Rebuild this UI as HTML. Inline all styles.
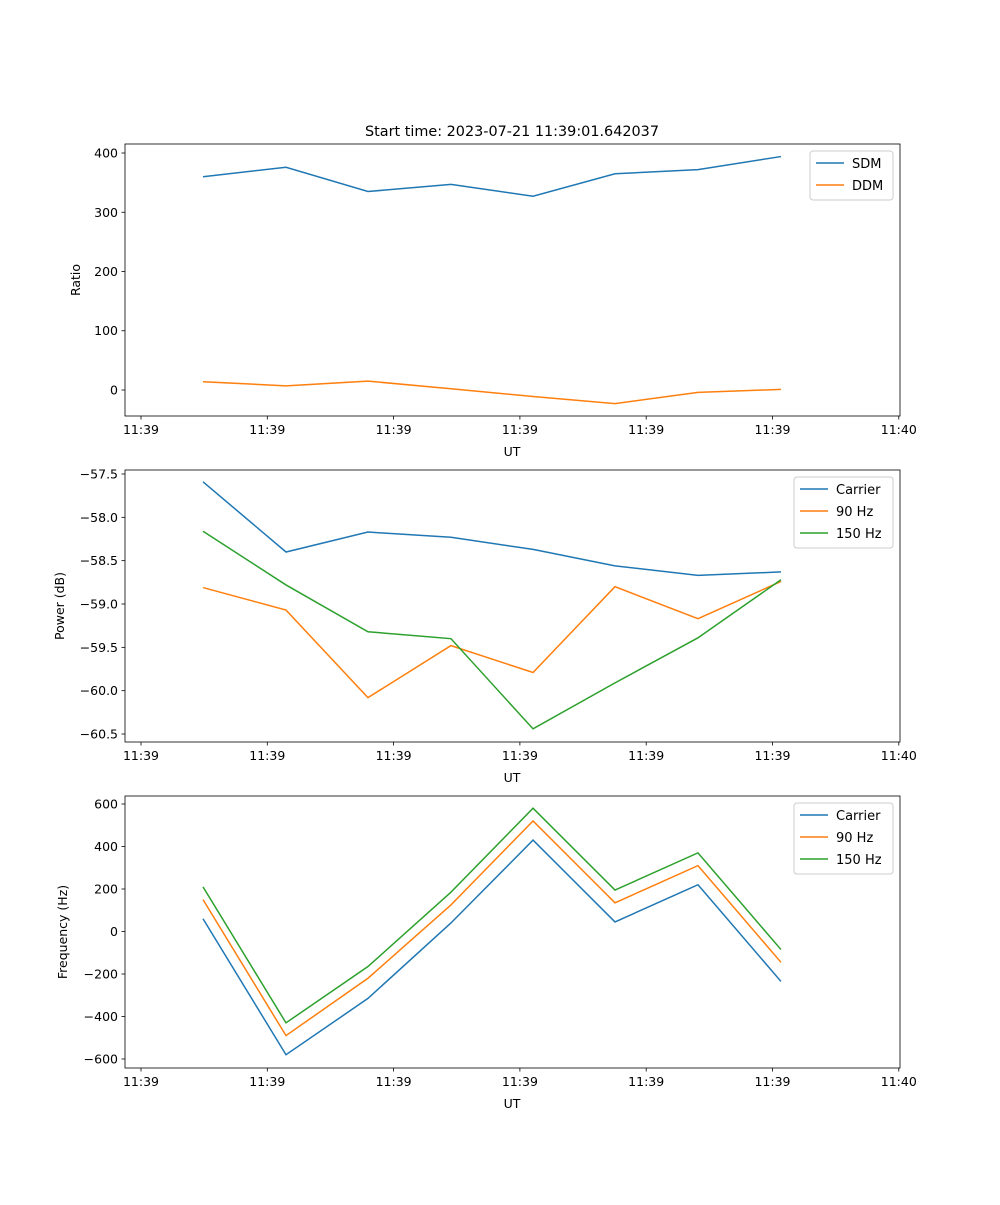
<!DOCTYPE html>
<html><head><meta charset="utf-8"><style>
body{margin:0;background:#fff}
svg{font-family:"DejaVu Sans","Liberation Sans",sans-serif}
</style></head><body>
<svg id="fig" width="1000" height="1200" xmlns="http://www.w3.org/2000/svg">
<rect width="1000" height="1200" fill="#fff"/>
<text x="512" y="136" text-anchor="middle" font-size="14.4">Start time: 2023-07-21 11:39:01.642037</text>
</svg>
<script>
const xTickLabels=["11:39","11:39","11:39","11:39","11:39","11:39","11:40"];
const xTickVals=[0,1,2,3,4,5,6];
const xVals=[0.491,1.148,1.797,2.454,3.104,3.753,4.410,5.067];
const sdm=[360,376,335,347,327,365,372,394];
const ddm=[14,7,15,2,-11,-23,-4,1];
const pwrCarrier=[-57.59,-58.40,-58.17,-58.23,-58.37,-58.56,-58.67,-58.63];
const pwr90=[-58.81,-59.07,-60.08,-59.48,-59.79,-58.80,-59.17,-58.74];
const pwr150=[-58.16,-58.78,-59.32,-59.40,-60.44,-59.91,-59.39,-58.72];
const frqCarrier=[60,-580,-315,40,430,45,220,-235];
const frq90=[150,-490,-220,125,520,135,310,-145];
const frq150=[210,-430,-165,185,580,195,370,-85];
const ticks1=[0,100,200,300,400];
const ticks2=[-60.5,-60.0,-59.5,-59.0,-58.5,-58.0,-57.5];
const ticks3=[-600,-400,-200,0,200,400,600];
const C=["#1f77b4","#ff7f0e","#2ca02c"];
const NS="http://www.w3.org/2000/svg";
const svg=document.getElementById('fig');
function mk(t,a,p){const e=document.createElementNS(NS,t);for(const k in a)e.setAttribute(k,a[k]);(p||svg).appendChild(e);return e;}
const L=125,R=900;
function xs(v){return 141+v*126.3;}
function panel(top,bot,ymin,ymax,yt,fmt,ylabel,series,names,legW,pname){
  const g=mk('g',{});
  
  
  const ys=v=>bot-(v-ymin)/(ymax-ymin)*(bot-top);
  series.forEach((s,i)=>{
    const p=mk('polyline',{points:s.map((v,j)=>xs(xVals[j])+','+ys(v)).join(' '),fill:'none',stroke:C[i],'stroke-width':1.5},g);
    
    
  });
  mk('rect',{x:L,y:top,width:R-L,height:bot-top,fill:'none',stroke:'#000','stroke-width':0.8},g);
  xTickVals.forEach((v,i)=>{const x=xs(v);mk('line',{x1:x,x2:x,y1:bot,y2:bot+3.5,stroke:'#000','stroke-width':0.8},g);
    const t=mk('text',{x:x,y:bot+18,'text-anchor':'middle','font-size':12.5},g);t.textContent=xTickLabels[i];
    });
  yt.forEach(v=>{const y=ys(v);mk('line',{x1:L-3.5,x2:L,y1:y,y2:y,stroke:'#000','stroke-width':0.8},g);
    const t=mk('text',{x:L-7,y:y+4.5,'text-anchor':'end','font-size':12.5},g);t.textContent=fmt(v);
    });
  const xl=mk('text',{x:512,y:bot+40,'text-anchor':'middle','font-size':12.5},g);xl.textContent='UT';
  
  const yl=mk('text',{x:0,y:0,'text-anchor':'middle','font-size':12.5,transform:`translate(${ylabel[1]},${(top+bot)/2}) rotate(-90)`},g);yl.textContent=ylabel[0];
  
  const lx=R-7-legW, ly=top+7, lh=names.length*22+5;
  const lg=mk('g',{},g);
  mk('rect',{x:lx,y:ly,width:legW,height:lh,rx:3,fill:'#fff',stroke:'#ccc','stroke-width':1},lg);
  names.forEach((n,i)=>{const y=ly+12+i*22;
    mk('line',{x1:lx+6,x2:lx+34,y1:y,y2:y,stroke:C[i],'stroke-width':1.5},lg);
    const t=mk('text',{x:lx+42,y:y+5,'font-size':13},lg);t.textContent=n;
    });
}
panel(144,416,-43.9,415.2,ticks1,v=>v.toString().replace('-','\u2212'),['Ratio',80],[sdm,ddm],['SDM','DDM'],83,'ratio-panel');
panel(470,742,-60.592,-57.454,ticks2,v=>v.toFixed(1).replace('-','\u2212'),['Power (dB)',64],[pwrCarrier,pwr90,pwr150],['Carrier','90 Hz','150 Hz'],99,'power-panel');
panel(796,1068,-642.4,637.6,ticks3,v=>v.toString().replace('-','\u2212'),['Frequency (Hz)',67],[frqCarrier,frq90,frq150],['Carrier','90 Hz','150 Hz'],99,'frequency-panel');
</script>
</body></html>
